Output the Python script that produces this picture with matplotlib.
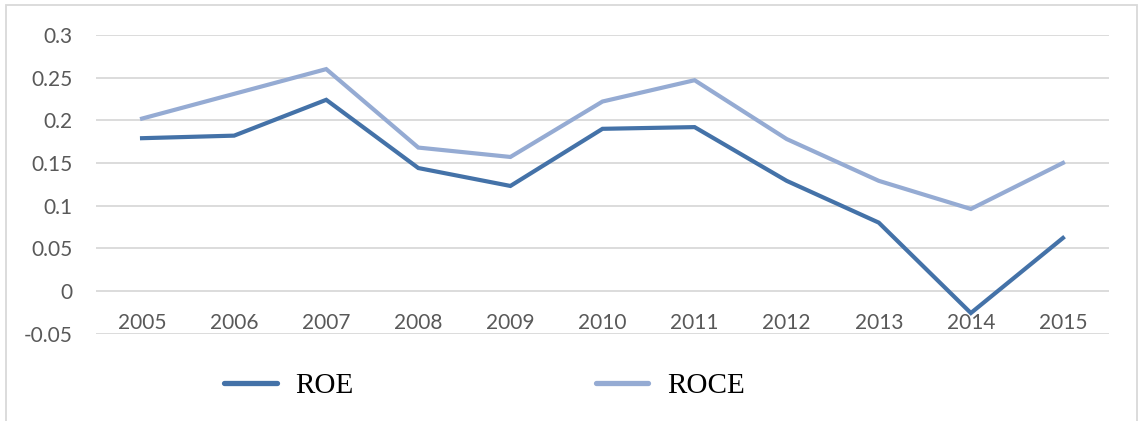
import matplotlib
matplotlib.use("Agg")
import matplotlib.pyplot as plt
from matplotlib.lines import Line2D
from matplotlib.patches import Rectangle

years = ["2005", "2006", "2007", "2008", "2009", "2010",
         "2011", "2012", "2013", "2014", "2015"]
roe = [0.179, 0.182, 0.224, 0.144, 0.123, 0.190,
       0.192, 0.129, 0.080, -0.026, 0.062]
roce = [0.202, 0.231, 0.260, 0.168, 0.157, 0.222,
        0.247, 0.178, 0.129, 0.096, 0.150]
y_ticks = [-0.05, 0, 0.05, 0.1, 0.15, 0.2, 0.25, 0.3]
y_labels = ["-0.05", "0", "0.05", "0.1", "0.15", "0.2", "0.25", "0.3"]

roe_color = "#4472a8"
roce_color = "#95abd3"
grid_color = "#d9d9d9"
text_color = "#595959"

W, H = 1138, 421
fig = plt.figure(figsize=(W / 100, H / 100), dpi=100)
ax = fig.add_axes([96 / W, 1 - 333.5 / H, (1109 - 96) / W, (333.5 - 35) / H])

x = list(range(len(years)))
ax.plot(x, roe, color=roe_color, lw=3.0, solid_joinstyle="miter", zorder=3)
ax.plot(x, roce, color=roce_color, lw=3.0, solid_joinstyle="miter", zorder=3)

ax.set_xlim(-0.5, len(years) - 0.5)
ax.set_ylim(-0.05, 0.3)
ax.set_yticks(y_ticks)
ax.set_yticklabels(y_labels)
ax.set_xticks(x)
ax.set_xticklabels(years)

ax.grid(axis="y", color=grid_color, lw=1.3, zorder=0)
ax.grid(axis="x", visible=False)
for side in ["top", "right", "left"]:
    ax.spines[side].set_visible(False)
ax.spines["bottom"].set_position(("data", 0))
ax.spines["bottom"].set_visible(False)

ax.tick_params(axis="both", length=0, labelcolor=text_color, labelsize=15)
ax.tick_params(axis="x", pad=16)
ax.tick_params(axis="y", pad=17)
for lab in ax.get_xticklabels() + ax.get_yticklabels():
    lab.set_family("Lato")

# outer chart frame
fig.patches.append(Rectangle((6 / W, -0.05), (1137 - 6) / W, 1 - 5 / H + 0.05,
                             transform=fig.transFigure, fill=False,
                             edgecolor=grid_color, lw=1.3))

handles = [Line2D([], [], color=roe_color, lw=3.8, solid_capstyle="round"),
           Line2D([], [], color=roce_color, lw=3.8, solid_capstyle="round")]
fig.legend(handles, ["ROE", "ROCE"], loc="center", ncol=2,
           bbox_to_anchor=(484.5 / W, 1 - 386 / H), frameon=False,
           prop={"family": "Liberation Serif", "size": 21},
           handlelength=1.8, handletextpad=0.65, columnspacing=8.3)

fig.savefig("out.png", dpi=100)
